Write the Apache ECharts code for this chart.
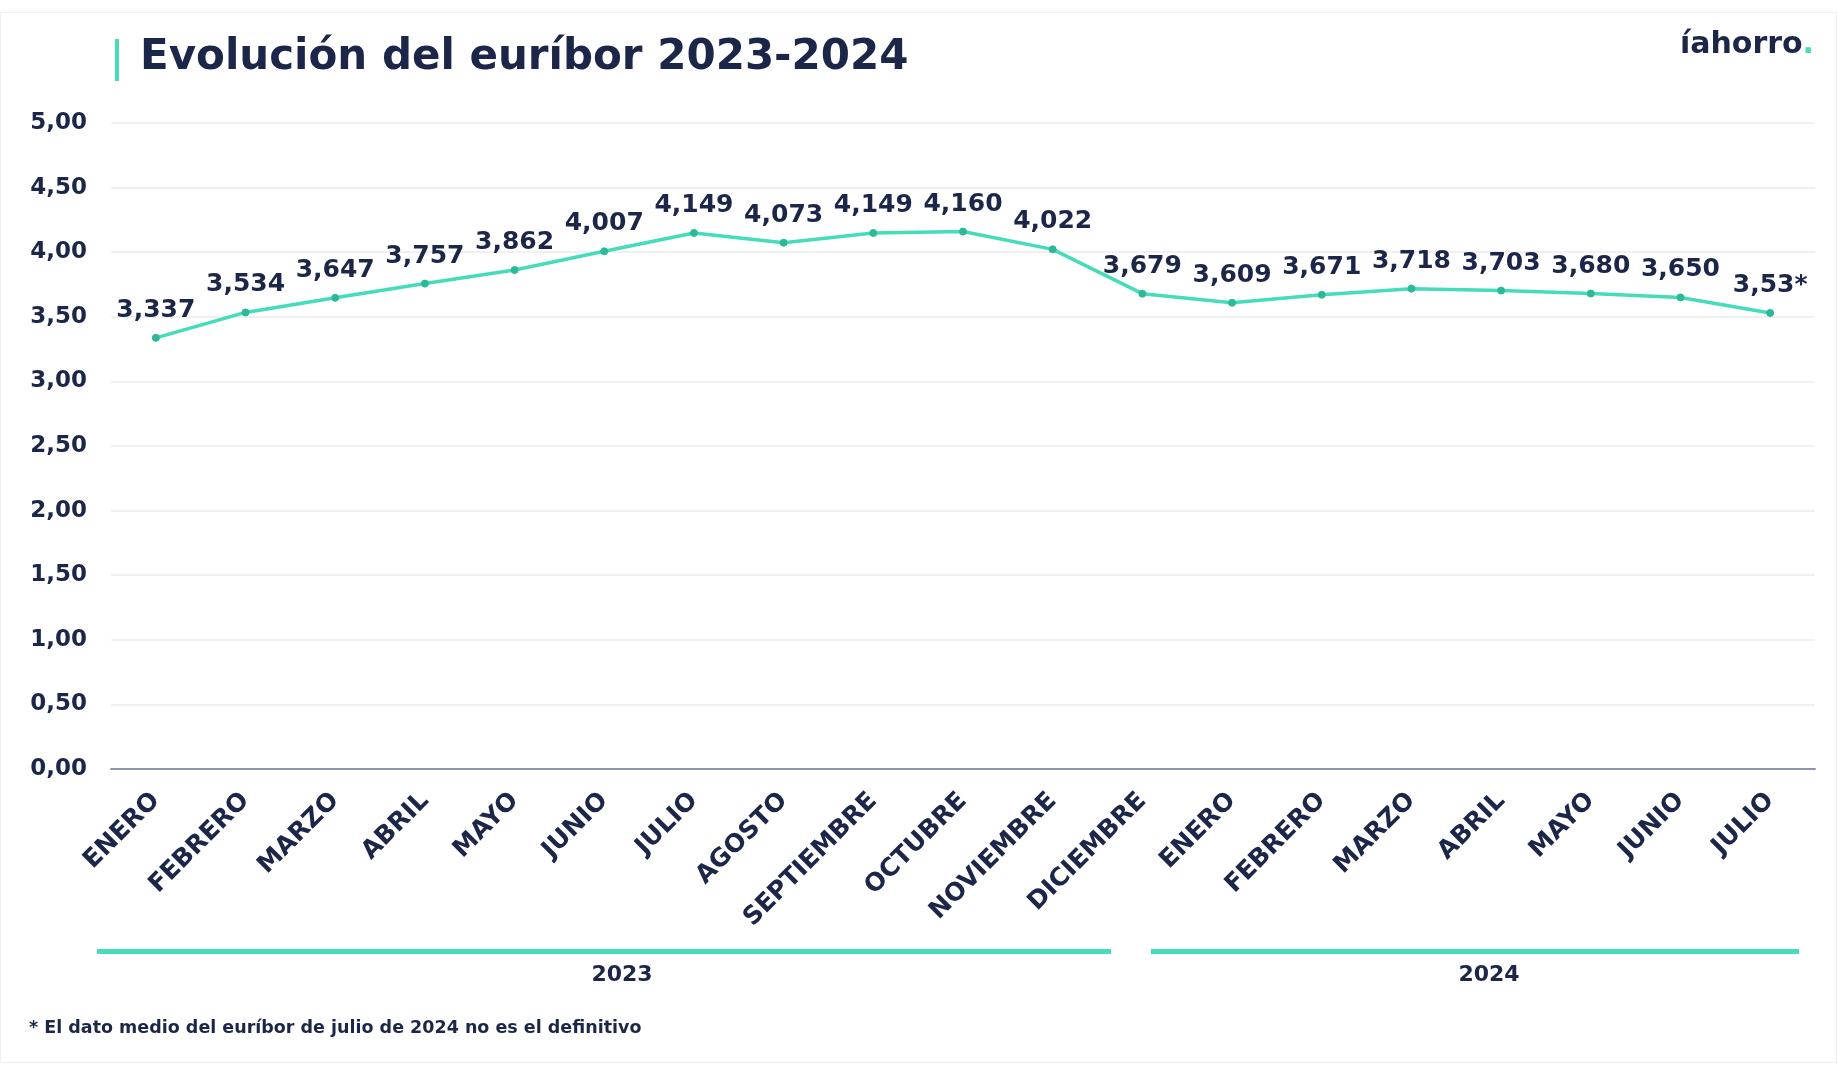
<!DOCTYPE html>
<html>
<head>
<meta charset="utf-8">
<script src="https://cdn.jsdelivr.net/npm/echarts@6/dist/echarts.min.js"></script>
<style>
html,body{margin:0;padding:0;background:#fff;}
#chart{width:1838px;height:1080px;}
</style>
</head>
<body>
<div id="chart"></div>
<script>
const months = ["ENERO","FEBRERO","MARZO","ABRIL","MAYO","JUNIO","JULIO","AGOSTO","SEPTIEMBRE","OCTUBRE","NOVIEMBRE","DICIEMBRE","ENERO","FEBRERO","MARZO","ABRIL","MAYO","JUNIO","JULIO"];
const euribor = [3.337,3.534,3.647,3.757,3.862,4.007,4.149,4.073,4.149,4.160,4.022,3.679,3.609,3.671,3.718,3.703,3.680,3.650,3.53];
const valueLabels = ["3,337","3,534","3,647","3,757","3,862","4,007","4,149","4,073","4,149","4,160","4,022","3,679","3,609","3,671","3,718","3,703","3,680","3,650","3,53*"];
const years = ["2023","2024"];
const yTicks = {min:0, max:5, interval:0.5};

const NAVY = '#1c2648';
const TEAL = '#45dcb9';
const FONT = '"DejaVu Sans", sans-serif';

const chart = echarts.init(document.getElementById('chart'), null, {renderer:'canvas'});
const cats = months.map((m,i)=> i + '|' + m);

chart.setOption({
  backgroundColor:'#ffffff',
  animation:false,
  grid:{left:111, right:23, top:123, bottom:311, containLabel:false},
  xAxis:{
    type:'category',
    data:cats,
    boundaryGap:true,
    axisLine:{show:true, lineStyle:{color:'#8d95aa', width:2}},
    axisTick:{show:false},
    axisLabel:{
      rotate:45, margin:28, color:NAVY, fontFamily:FONT, fontWeight:'bold', fontSize:25,
      formatter:v=>v.split('|')[1]
    }
  },
  yAxis:{
    type:'value', min:yTicks.min, max:yTicks.max, interval:yTicks.interval,
    axisLine:{show:false}, axisTick:{show:false},
    splitLine:{lineStyle:{color:'#ebebeb', width:1.5}},
    axisLabel:{
      color:NAVY, fontFamily:FONT, fontWeight:'bold', fontSize:23, margin:24,
      formatter:v=>v.toFixed(2).replace('.',',')
    }
  },
  series:[{
    type:'line',
    data:euribor,
    symbol:'circle', symbolSize:7,
    lineStyle:{color:TEAL, width:3.5},
    itemStyle:{color:'#2bb99a', borderColor:'#2bb99a'},
    label:{
      show:true, position:'top', distance:11,
      color:NAVY, fontFamily:FONT, fontWeight:'bold', fontSize:25,
      formatter:p=>valueLabels[p.dataIndex]
    }
  }],
  graphic:[
    {type:'rect', shape:{x:0.5,y:12.5,width:1836,height:1050}, style:{fill:'none', stroke:'#f1f1f1', lineWidth:1}, silent:true},
    {type:'rect', shape:{x:115,y:39,width:4,height:42}, style:{fill:TEAL}},
    {type:'text', left:140, top:37, style:{text:'Evolución del euríbor 2023-2024', fill:NAVY, font:'bold 42px '+FONT}},
    {type:'text', right:24, top:30, style:{
      text:'{a|íahorro}{b|.}',
      rich:{a:{fill:NAVY, font:'bold 30px '+FONT}, b:{fill:TEAL, font:'bold 30px '+FONT}}
    }},
    {type:'rect', shape:{x:97,y:949,width:1014,height:5}, style:{fill:TEAL}},
    {type:'rect', shape:{x:1151,y:949,width:648,height:5}, style:{fill:TEAL}},
    {type:'text', x:622, y:975, style:{text:years[0], fill:NAVY, font:'bold 22px '+FONT, align:'center', verticalAlign:'middle'}},
    {type:'text', x:1489, y:975, style:{text:years[1], fill:NAVY, font:'bold 22px '+FONT, align:'center', verticalAlign:'middle'}},
    {type:'text', x:29, y:1028, style:{text:'* El dato medio del euríbor de julio de 2024 no es el definitivo', fill:NAVY, font:'bold 17.5px '+FONT, verticalAlign:'middle'}}
  ]
});
</script>
</body>
</html>
